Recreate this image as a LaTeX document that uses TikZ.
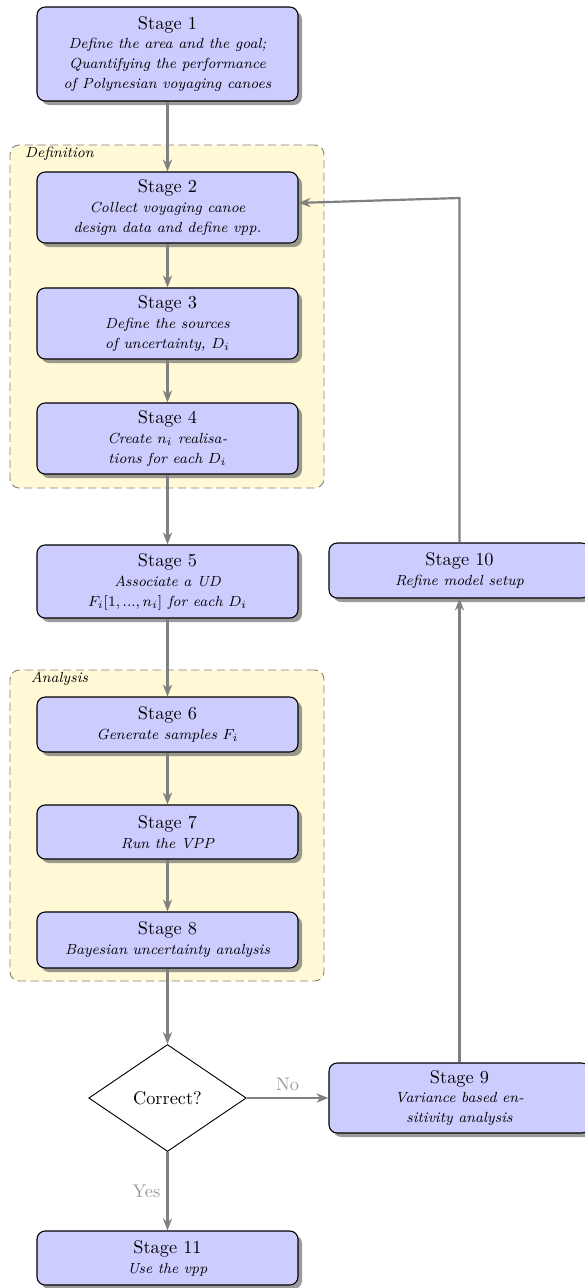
\documentclass[tikz,border=0pt]{standalone}
\usetikzlibrary{shapes.geometric,arrows.meta,shadows}
\definecolor{cream}{RGB}{255,249,214}
\newcommand{\subtxt}[1]{{\fontsize{8}{10.9}\selectfont\itshape #1}}
\begin{document}
\begin{tikzpicture}[x=0.546pt,y=-0.546pt,
  stagebox/.style={draw=black, line width=0.6pt, fill=blue!20, rounded corners=4.5pt,
    minimum width=142.5pt, align=center, inner sep=0pt,
    drop shadow={shadow xshift=2.2pt, shadow yshift=-2.2pt, fill=black!60, opacity=0.65},
    font=\fontsize{10}{10.9}\selectfont},
  container/.style={draw=black!50, line width=0.5pt, dash pattern=on 4.5pt off 2.5pt,
    fill=cream, rounded corners=5pt, minimum width=171.4pt, inner sep=0pt},
  grouplabel/.style={font=\fontsize{8}{10}\selectfont\itshape, anchor=base, inner sep=0pt},
  flowarrow/.style={draw=black!50, line width=1.2pt, -{Stealth[length=6.5pt,width=5pt,inset=2pt]}},
  decision/.style={draw=black, line width=0.5pt, fill=white, shape=diamond, aspect=1.48,
    minimum width=86pt, minimum height=58.4pt, inner sep=0pt, font=\fontsize{10}{12}\selectfont},
  choicelabel/.style={text=black!40, font=\fontsize{10}{12}\selectfont}
]
\useasboundingbox (0,0) rectangle (585,1288);

% containers
\node[container, minimum height=187.3pt] (defgroup) at (167,316.5) {};
\node[container, minimum height=169.8pt] (anagroup) at (167,825.5) {};
\node[grouplabel] (deflabel) at (59.5,157) {Definition};
\node[grouplabel] (analabel) at (59.5,682) {Analysis};

% stages
\node[stagebox, minimum height=51.3pt] (s1) at (167.5,54) {Stage 1\\\subtxt{Define the area and the goal;}\\\subtxt{Quantifying the performance}\\\subtxt{of Polynesian voyaging canoes}};
\node[stagebox, minimum height=38.8pt] (s2) at (167.5,207.5) {Stage 2\\\subtxt{Collect voyaging canoe}\\\subtxt{design data and define vpp.}};
\node[stagebox, minimum height=38.8pt] (s3) at (167.5,323.5) {Stage 3\\\subtxt{Define the sources}\\\subtxt{of uncertainty, $D_i$}};
\node[stagebox, minimum height=38.8pt] (s4) at (167.5,438.5) {Stage 4\\\subtxt{Create $n_i$ realisa-}\\\subtxt{tions for each $D_i$}};
\node[stagebox, minimum height=39.9pt] (s5) at (167.5,581.5) {Stage 5\\\subtxt{Associate a UD}\\\subtxt{$F_i[1,...,n_i]$ for each $D_i$}};
\node[stagebox, minimum height=30pt] (s6) at (167.5,724.5) {Stage 6\\\subtxt{Generate samples $F_i$}};
\node[stagebox, minimum height=29.5pt] (s7) at (167.5,832) {Stage 7\\\subtxt{Run the VPP}};
\node[stagebox, minimum height=30.6pt] (s8) at (167.5,940) {Stage 8\\\subtxt{Bayesian uncertainty analysis}};
\node[decision] (dec) at (167.5,1098) {Correct?};
\node[stagebox, minimum height=29.5pt] (s11) at (167.5,1258) {Stage 11\\\subtxt{Use the vpp}};
\node[stagebox, minimum height=38.2pt] (s9) at (459.5,1098) {Stage 9\\\subtxt{Variance based en-}\\\subtxt{sitivity analysis}};
\node[stagebox, minimum height=30pt] (s10) at (459.5,570.5) {Stage 10\\\subtxt{Refine model setup}};

\coordinate (corner) at (459.5,198);

% connectors
\draw[flowarrow] (s1) -- (s2);
\draw[flowarrow] (s2) -- (s3);
\draw[flowarrow] (s3) -- (s4);
\draw[flowarrow] (s4) -- (s5);
\draw[flowarrow] (s5) -- (s6);
\draw[flowarrow] (s6) -- (s7);
\draw[flowarrow] (s7) -- (s8);
\draw[flowarrow] (s8) -- (dec);
\draw[flowarrow] (dec.east) -- node[choicelabel, above] {No} (s9.west);
\draw[flowarrow] (dec.south) -- node[choicelabel, left] {Yes} (s11.north);
\draw[flowarrow] (s9.north) -- (s10.south);
\draw[flowarrow] (s10.north) -- (corner) -- ([yshift=2.5pt]s2.east);
\end{tikzpicture}
\end{document}
